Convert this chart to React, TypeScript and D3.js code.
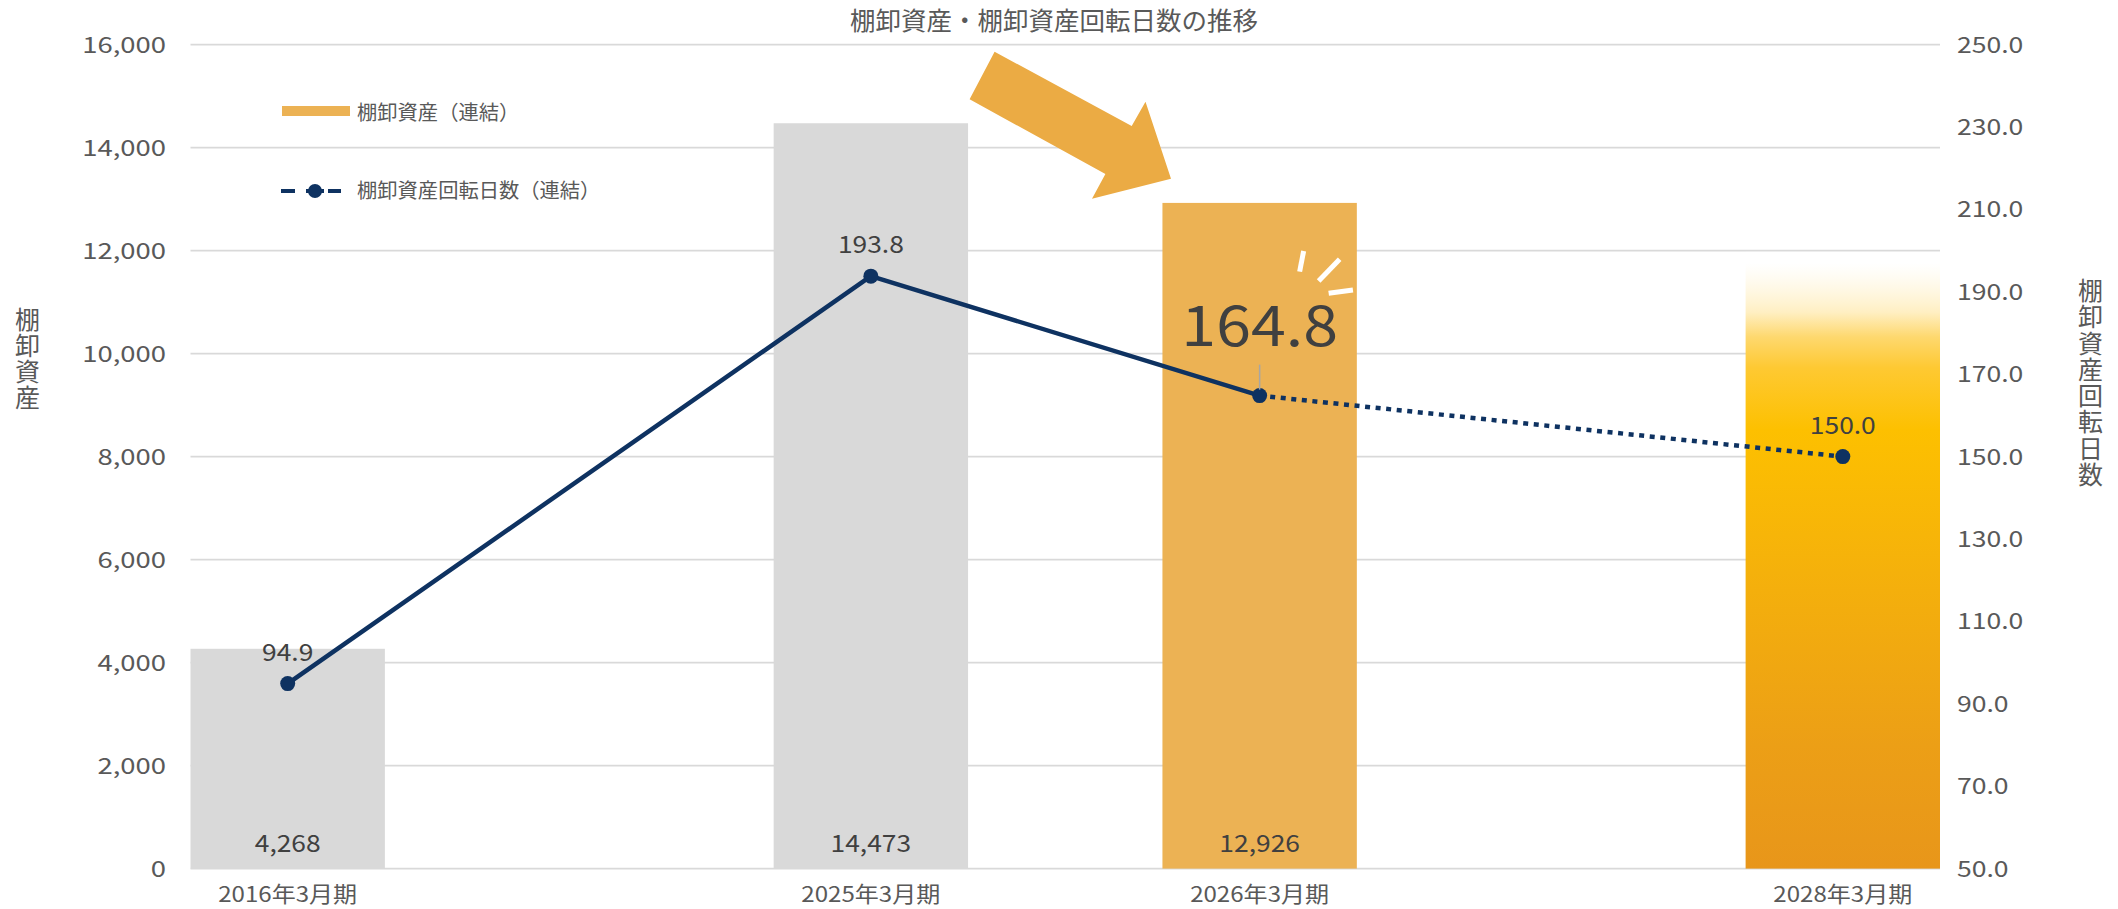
import React from "react";
import * as d3 from "d3";

// ---- data ----
const categories = ["2016年3月期", "2025年3月期", "2026年3月期", "2028年3月期"];
const slotIndex = [0, 3, 5, 8]; // position of each category on a 9-slot band axis
const slotCount = 9;
const inventory = [4268, 14473, 12926, 12000];
const inventoryLabelShown = [true, true, true, false];
const barStyle = ["gray", "gray", "orange", "gradient"];
const turnoverDays = [94.9, 193.8, 164.8, 150.0];
const dottedFrom = 2; // segment from index 2 to 3 is a forecast (dotted)
const highlightIndex = 2;
const leftTicks = [0, 2000, 4000, 6000, 8000, 10000, 12000, 14000, 16000];
const rightTicks = [50, 70, 90, 110, 130, 150, 170, 190, 210, 230, 250];
const title = "棚卸資産・棚卸資産回転日数の推移";
const legendBar = "棚卸資産（連結）";
const legendLine = "棚卸資産回転日数（連結）";
const leftTitle = "棚卸資産";
const rightTitle = "棚卸資産回転日数";

const W = 2118;
const H = 909;
const M = { left: 190.5, right: 1940, top: 44.6, bottom: 868.6 };
const FONT = "'Noto Sans CJK JP', 'Noto Sans', sans-serif";
const TXT = "#595959";
const DARK = "#404040";
const NAVY = "#0E3261";
const GRAY_BAR = "#D9D9D9";
const ORANGE = "#ECB254";
const ARROW = "#EBAB44";

function T(props: any) {
  const { x, y, sx = 1, children, ...rest } = props;
  return (
    <text transform={`translate(${x},${y}) scale(${sx},1)`} fontFamily={FONT} {...rest}>
      {children}
    </text>
  );
}

function VText(props: any) {
  const { x, top, text, fontSize, spacing } = props;
  return (
    <text
      x={x}
      y={top}
      fontFamily={FONT}
      fontSize={fontSize}
      fill={TXT}
      style={{ writingMode: "vertical-rl", textOrientation: "upright", letterSpacing: `${spacing}px` } as any}
    >
      {text}
    </text>
  );
}

export default function App() {
  const x = d3
    .scaleBand<string>()
    .domain(d3.range(slotCount).map(String))
    .range([M.left, M.right])
    .padding(0);
  const yL = d3.scaleLinear().domain([0, 16000]).range([M.bottom, M.top]);
  const yR = d3.scaleLinear().domain([50, 250]).range([M.bottom, M.top]);
  const cx = (i: number) => (x(String(slotIndex[i])) as number) + x.bandwidth() / 2;
  const fmtInt = d3.format(",");
  const fmt1 = d3.format(".1f");

  const pts = turnoverDays.map((v, i) => [cx(i), yR(v)] as [number, number]);
  const line = d3.line();
  const solidPath = line(pts.slice(0, dottedFrom + 1)) as string;
  const dottedPath = line(pts.slice(dottedFrom)) as string;

  const hx = pts[highlightIndex][0];
  const hy = pts[highlightIndex][1];

  const arrowPts: [number, number][] = [
    [994.6, 51.7],
    [969.6, 99.3],
    [1105.4, 174],
    [1092, 198.7],
    [1171, 178.7],
    [1145.5, 101.7],
    [1131.7, 126],
  ];

  return (
    <svg
      width={W}
      height={H}
      style={{ position: "absolute", left: 0, top: 0, display: "block", background: "#fff" }}
    >
      <defs>
        <linearGradient id="g2028" x1="0" y1="0" x2="0" y2="1">
          <stop offset="0" stopColor="#FFFFFF" stopOpacity="0" />
          <stop offset="0.02" stopColor="#FFFFFF" stopOpacity="0.6" />
          <stop offset="0.1" stopColor="#FFEFC2" />
          <stop offset="0.14" stopColor="#FED86E" />
          <stop offset="0.19" stopColor="#FEC932" />
          <stop offset="0.29" stopColor="#FDC000" />
          <stop offset="0.52" stopColor="#F5B10B" />
          <stop offset="0.8" stopColor="#EC9F16" />
          <stop offset="1" stopColor="#E8961A" />
        </linearGradient>
      </defs>

      {/* gridlines */}
      {leftTicks.map((t) => (
        <line key={t} x1={M.left} x2={M.right} y1={yL(t)} y2={yL(t)} stroke="#D9D9D9" strokeWidth={1.6} />
      ))}

      {/* bars */}
      {inventory.map((v, i) => {
        const fill = barStyle[i] === "gray" ? GRAY_BAR : barStyle[i] === "orange" ? ORANGE : "url(#g2028)";
        return (
          <rect
            key={i}
            x={x(String(slotIndex[i]))}
            y={yL(v)}
            width={x.bandwidth()}
            height={yL(0) - yL(v)}
            fill={fill}
          />
        );
      })}

      {/* bar value labels */}
      {inventory.map((v, i) =>
        inventoryLabelShown[i] ? (
          <T key={i} x={cx(i)} y={yL(0) - 16.5} sx={1.1} textAnchor="middle" fontSize={24} fill={DARK}>
            {fmtInt(v)}
          </T>
        ) : null
      )}

      {/* arrow */}
      <polygon points={arrowPts.map((p) => p.join(",")).join(" ")} fill={ARROW} />

      {/* line */}
      <path d={solidPath} fill="none" stroke={NAVY} strokeWidth={4.5} strokeLinejoin="round" />
      <path d={dottedPath} fill="none" stroke={NAVY} strokeWidth={4.5} strokeDasharray="5 5.6" />
      {pts.map((p, i) => (
        <circle key={i} cx={p[0]} cy={p[1]} r={7.5} fill={NAVY} />
      ))}

      {/* line labels */}
      {turnoverDays.map((v, i) =>
        i === highlightIndex ? null : (
          <T key={i} x={pts[i][0]} y={pts[i][1] - 23} sx={1.1} textAnchor="middle" fontSize={24} fill={DARK}>
            {fmt1(v)}
          </T>
        )
      )}

      {/* highlight label */}
      <line x1={hx} x2={hx} y1={hy - 31} y2={hy - 6} stroke="#A6A6A6" strokeWidth={1.5} />
      <T x={hx} y={hy - 49.5} sx={1.12} textAnchor="middle" fontSize={56} fill={DARK}>
        {fmt1(turnoverDays[highlightIndex])}
      </T>
      <g stroke="#FFFFFF" strokeWidth={5}>
        <line x1={hx + 40} y1={hy - 124} x2={hx + 44} y2={hy - 144.6} />
        <line x1={hx + 59} y1={hy - 114.6} x2={hx + 80} y2={hy - 136.3} />
        <line x1={hx + 69} y1={hy - 102.3} x2={hx + 93.3} y2={hy - 105.6} />
      </g>

      {/* left axis labels */}
      {leftTicks.map((t) => (
        <T key={t} x={166} y={yL(t) + 8} sx={1.22} textAnchor="end" fontSize={22.5} fill={TXT}>
          {fmtInt(t)}
        </T>
      ))}
      {/* right axis labels */}
      {rightTicks.map((t) => (
        <T key={t} x={1957} y={yR(t) + 8} sx={1.18} textAnchor="start" fontSize={22.5} fill={TXT}>
          {fmt1(t)}
        </T>
      ))}

      {/* x axis labels */}
      {categories.map((c, i) => (
        <T key={c} x={cx(i)} y={902} sx={1.12} textAnchor="middle" fontSize={21.5} fill={TXT}>
          {c}
        </T>
      ))}

      {/* title */}
      <T x={1054} y={30} textAnchor="middle" fontSize={25.5} fill={TXT}>
        {title}
      </T>

      {/* axis titles (vertical) */}
      <VText x={27.5} top={307} text={leftTitle} fontSize={25} spacing={1} />
      <VText x={2090.5} top={278} text={rightTitle} fontSize={25} spacing={1.3} />

      {/* legend */}
      <rect x={282} y={106} width={68} height={10} fill={ORANGE} />
      <T x={357} y={120} fontSize={20.3} fill={TXT}>
        {legendBar}
      </T>
      <line x1={281} x2={295} y1={191} y2={191} stroke={NAVY} strokeWidth={4} />
      <line x1={328} x2={341} y1={191} y2={191} stroke={NAVY} strokeWidth={4} />
      <line x1={306} x2={324} y1={191} y2={191} stroke={NAVY} strokeWidth={4} />
      <circle cx={315} cy={191} r={7} fill={NAVY} />
      <T x={357} y={198} fontSize={20.3} fill={TXT}>
        {legendLine}
      </T>
    </svg>
  );
}
